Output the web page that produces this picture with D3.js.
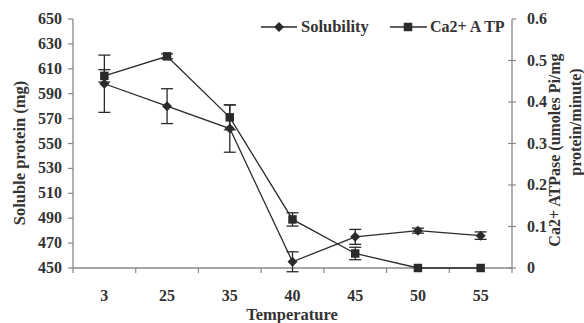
<!DOCTYPE html>
<html><head><meta charset="utf-8">
<script src="https://cdn.jsdelivr.net/npm/d3@7/dist/d3.min.js"></script>
<style>body{margin:0;background:#fff}svg{display:block}</style>
</head><body><svg id="c" width="584" height="323" font-family="'Liberation Serif', 'Times New Roman', 'DejaVu Serif', serif" font-weight="bold"></svg>
<script>
const categories = ["3","25","35","40","45","50","55"];
const solubility = [598, 580, 562, 455, 475, 480, 476];
const solubilityErr = [23, 14, 19, 8, 6, 2, 3];
const atpase = [0.463, 0.51, 0.363, 0.117, 0.035, 0, 0];
const atpaseErr = [0.015, 0.006, 0.03, 0.016, 0.015, 0, 0];
const leftTicks = [450,470,490,510,530,550,570,590,610,630,650];
const rightTicks = [0,0.1,0.2,0.3,0.4,0.5,0.6];

const svg = d3.select("#c");
const L = 73, R = 512, T = 19, B = 268;
const x = d3.scaleBand().domain(categories).range([L, R]);
const yL = d3.scaleLinear().domain([450, 650]).range([B, T]);
const yR = d3.scaleLinear().domain([0, 0.6]).range([B, T]);
const axisCol = "#888", lineCol = "#2a2a2a", textCol = "#333";
const cx = d => x(d) + x.bandwidth() / 2;
const txt = () => svg.append("text").attr("fill", textCol);

svg.append("line").attr("x1", L).attr("x2", L).attr("y1", T).attr("y2", B).attr("stroke", axisCol).attr("stroke-width", 1.3);
svg.append("line").attr("x1", R).attr("x2", R).attr("y1", T).attr("y2", B).attr("stroke", axisCol).attr("stroke-width", 1.3);
svg.append("line").attr("x1", L).attr("x2", R).attr("y1", B).attr("y2", B).attr("stroke", axisCol).attr("stroke-width", 1.3);

leftTicks.forEach(t => {
  svg.append("line").attr("x1", L - 5).attr("x2", L).attr("y1", yL(t)).attr("y2", yL(t)).attr("stroke", axisCol).attr("stroke-width", 1.2);
  txt().attr("x", 62).attr("y", yL(t) + 5).attr("text-anchor", "end").attr("font-size", 16).text(t);
});
rightTicks.forEach((t, i) => {
  svg.append("line").attr("x1", i === rightTicks.length - 1 ? R : R - 4).attr("x2", R + 4).attr("y1", yR(t)).attr("y2", yR(t)).attr("stroke", axisCol).attr("stroke-width", 1.2);
  txt().attr("x", 527).attr("y", yR(t) + 5).attr("text-anchor", "start").attr("font-size", 16).text(t === 0 ? "0" : d3.format(".1f")(t));
});
const bounds = categories.map(c => x(c)).concat([R]);
bounds.forEach(b => {
  svg.append("line").attr("x1", b).attr("x2", b).attr("y1", B).attr("y2", B + 5).attr("stroke", axisCol).attr("stroke-width", 1.2);
});
categories.forEach(c => {
  txt().attr("x", cx(c)).attr("y", 301).attr("text-anchor", "middle").attr("font-size", 16).text(c);
});

txt().attr("x", 292).attr("y", 320).attr("text-anchor", "middle").attr("font-size", 16.5).text("Temperature");
txt().attr("transform", "translate(25,153) rotate(-90)").attr("text-anchor", "middle").attr("font-size", 16.5).text("Soluble protein (mg)");
txt().attr("transform", "translate(560,150) rotate(-90)").attr("text-anchor", "middle").attr("font-size", 16).text("Ca2+ ATPase (umoles Pi/mg");
txt().attr("transform", "translate(581,122) rotate(-90)").attr("text-anchor", "middle").attr("font-size", 16).text("protein/minute)");

function errBars(vals, errs, y) {
  vals.forEach((v, i) => {
    const e = errs[i]; if (!e) return;
    const xx = cx(categories[i]);
    const g = svg.append("g").attr("stroke", lineCol).attr("stroke-width", 1.3);
    g.append("line").attr("x1", xx).attr("x2", xx).attr("y1", y(v - e)).attr("y2", y(v + e));
    g.append("line").attr("x1", xx - 6).attr("x2", xx + 6).attr("y1", y(v - e)).attr("y2", y(v - e));
    g.append("line").attr("x1", xx - 6).attr("x2", xx + 6).attr("y1", y(v + e)).attr("y2", y(v + e));
  });
}
errBars(solubility, solubilityErr, yL);
errBars(atpase, atpaseErr, yR);

const lineL = d3.line().x((d, i) => cx(categories[i])).y(d => yL(d));
const lineR = d3.line().x((d, i) => cx(categories[i])).y(d => yR(d));
svg.append("path").attr("d", lineL(solubility)).attr("fill", "none").attr("stroke", lineCol).attr("stroke-width", 1.3);
svg.append("path").attr("d", lineR(atpase)).attr("fill", "none").attr("stroke", lineCol).attr("stroke-width", 1.3);

const diamond = d3.symbol().type(d3.symbolSquare).size(50);
const square = d3.symbol().type(d3.symbolSquare).size(72);
solubility.forEach((v, i) => {
  svg.append("path").attr("d", diamond()).attr("transform", `translate(${cx(categories[i])},${yL(v)}) rotate(45)`).attr("fill", lineCol);
});
atpase.forEach((v, i) => {
  svg.append("path").attr("d", square()).attr("transform", `translate(${cx(categories[i])},${yR(v)})`).attr("fill", lineCol);
});

svg.append("line").attr("x1", 261).attr("x2", 297).attr("y1", 27).attr("y2", 27).attr("stroke", lineCol).attr("stroke-width", 1.3);
svg.append("path").attr("d", diamond()).attr("transform", "translate(279,27) rotate(45)").attr("fill", lineCol);
txt().attr("x", 301).attr("y", 32).attr("font-size", 16.5).text("Solubility");
svg.append("line").attr("x1", 390).attr("x2", 427).attr("y1", 27).attr("y2", 27).attr("stroke", lineCol).attr("stroke-width", 1.3);
svg.append("path").attr("d", square()).attr("transform", "translate(408,27)").attr("fill", lineCol);
txt().attr("x", 430).attr("y", 32).attr("font-size", 16).text("Ca2+ A TP");
</script></body></html>
